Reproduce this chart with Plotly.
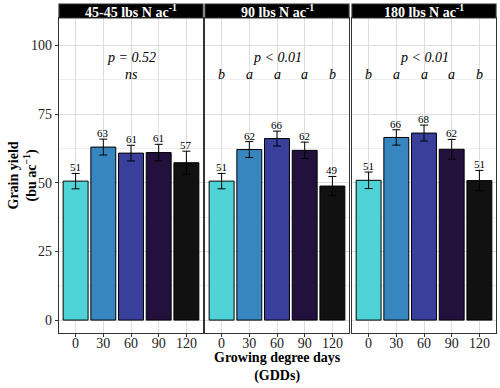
import plotly.graph_objects as go

categories = ["0", "30", "60", "90", "120"]
panel_titles = ["45-45 lbs N ac<sup>-1</sup>", "90 lbs N ac<sup>-1</sup>", "180 lbs N ac<sup>-1</sup>"]
means_p1 = [50.6, 63.0, 60.8, 61.0, 57.3]
se_p1 = [2.8, 2.9, 2.85, 3.0, 4.2]
means_p2 = [50.6, 62.1, 66.1, 61.8, 48.8]
se_p2 = [2.8, 2.9, 2.7, 3.0, 3.5]
means_p3 = [50.9, 66.5, 68.1, 62.2, 50.8]
se_p3 = [3.0, 2.8, 2.9, 3.6, 3.7]
p_texts = ["p = 0.52", "p &lt; 0.01", "p &lt; 0.01"]
p_text_category = "60"
letters_p1 = ["", "", "ns", "", ""]
letters_p2 = ["b", "a", "a", "a", "b"]
letters_p3 = ["b", "a", "a", "a", "b"]
colors = ["#50d3d6", "#3786c0", "#393f9b", "#22113c", "#111111"]

means = [means_p1, means_p2, means_p3]
ses = [se_p1, se_p2, se_p3]
letters = [letters_p1, letters_p2, letters_p3]

FONT = "Liberation Serif"
W, H = 500, 388
ml, mr, mt, mb = 59, 4, 18, 55
pw = W - ml - mr
ph = H - mt - mb
domains = [[0, 144 / pw], [146 / pw, 290 / pw], [293 / pw, 1.0]]

fig = go.Figure()
for i in range(3):
    ax = "" if i == 0 else str(i + 1)
    fig.add_trace(go.Bar(
        x=categories, y=means[i],
        marker=dict(color=colors, line=dict(color="black", width=1)),
        width=0.9,
        error_y=dict(type="data", array=ses[i], color="black", thickness=1, width=4),
        xaxis="x" + ax, yaxis="y" + ax, showlegend=False,
    ))
    xa = dict(domain=domains[i], type="category", range=[-0.6, 4.6],
              showline=True, mirror=True, linecolor="#333333", linewidth=1.2,
              showgrid=True, gridcolor="#dedede", gridwidth=1,
              ticks="outside", ticklen=3, tickcolor="#333333", ticklabelstandoff=-6,
              tickfont=dict(family=FONT, size=14, color="#222222"), anchor="y" + ax)
    ya = dict(range=[-4.7, 110], tickvals=[0, 25, 50, 75, 100],
              showline=True, mirror=True, linecolor="#333333", linewidth=1.2,
              showgrid=True, gridcolor="#dedede", gridwidth=1,
              minor=dict(tickvals=[12.5, 37.5, 62.5, 87.5], showgrid=True, gridcolor="#eeeeee", gridwidth=0.6),
              zeroline=False, anchor="x" + ax,
              tickfont=dict(family=FONT, size=14, color="#222222"))
    if i == 0:
        ya.update(ticks="outside", ticklen=3, tickcolor="#333333", showticklabels=True)
    else:
        ya.update(showticklabels=False, ticks="", matches="y")
    fig.update_layout(**{"xaxis" + ax: xa, "yaxis" + ax: ya})

    # strip
    xref = ("x" + ax) + " domain"
    fig.add_shape(type="rect", xref=xref, yref="paper", x0=0, x1=1, y0=1.0, y1=1 + 14 / ph,
                  fillcolor="black", line=dict(color="#333333", width=1.2))
    fig.add_annotation(xref=xref, yref="paper", x=0.5, y=1 + 7 / ph, text="<b>" + panel_titles[i] + "</b>",
                       showarrow=False, font=dict(family=FONT, size=14, color="white"), yanchor="middle")
    # p value
    fig.add_annotation(xref="x" + ax, yref="y" + ax, x=categories.index(p_text_category), y=95.5,
                       text="<i>" + p_texts[i] + "</i>", borderpad=0,
                       showarrow=False, font=dict(family=FONT, size=14, color="black"), yanchor="middle")
    for k, (m, s, L) in enumerate(zip(means[i], ses[i], letters[i])):
        fig.add_annotation(xref="x" + ax, yref="y" + ax, x=k, y=m + s, text=f"{m:.0f}", showarrow=False,
                           font=dict(family=FONT, size=11, color="black"), yanchor="bottom", borderpad=0, yshift=-1)
        if L:
            fig.add_annotation(xref="x" + ax, yref="y" + ax, x=k, y=89.3, text="<i>" + L + "</i>", showarrow=False,
                               borderpad=0, font=dict(family=FONT, size=14, color="black"), yanchor="middle")

# axis titles
fig.add_annotation(xref="paper", yref="paper", x=0.5, y=-15 / ph, text="<b>Growing degree days<br>(GDDs)</b>",
                   showarrow=False, font=dict(family=FONT, size=14, color="black"), yanchor="top")
fig.add_annotation(xref="paper", yref="paper", x=-(ml - 22) / pw, y=0.5, text="<b>Grain yield<br>(bu ac<sup>−1</sup>)</b>",
                   showarrow=False, textangle=-90, font=dict(family=FONT, size=14, color="black"), xanchor="center")

fig.update_layout(width=W, height=H, margin=dict(l=ml, r=mr, t=mt, b=mb),
                  paper_bgcolor="white", plot_bgcolor="white", bargap=0.1)
fig.write_html("out.html", config={"displayModeBar": False},
               post_script="document.body.style.margin='0';document.body.style.padding='0';")
